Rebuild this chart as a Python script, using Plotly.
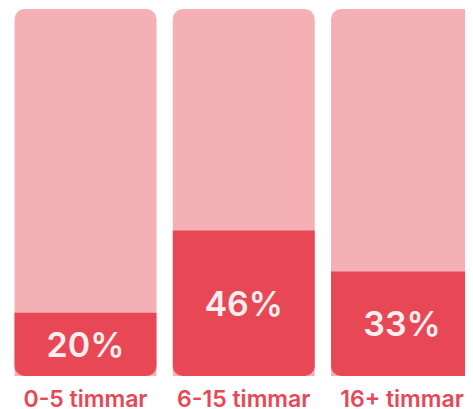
import plotly.graph_objects as go

categories = ["0-5 timmar", "6-15 timmar", "16+ timmar"]
values = [20, 46, 33]
scale_max = 116  # value that fills a whole bar

DARK = "#E84756"
LIGHT = "#F4B0B4"
TEXT_IN = "#FDEEEF"
FONT = "Inter, Roboto, sans-serif"

fig = go.Figure()

# full-height background bars (rounded at top)
fig.add_trace(go.Bar(
    x=categories,
    y=[scale_max] * len(categories),
    marker=dict(color=LIGHT, line=dict(width=0), cornerradius=10),
    width=0.897,
    hoverinfo="skip",
    showlegend=False,
))

# each value bar is drawn as a negative bar on its own overlay axis,
# so that its rounded end sits at the bottom of the column
layout_axes = {}
for i, (cat, v) in enumerate(zip(categories, values)):
    ax = f"y{i + 2}"
    fig.add_trace(go.Bar(
        x=[cat],
        y=[-v],
        yaxis=ax,
        text=[f"{v}%"],
        textposition="inside",
        insidetextanchor="middle",
        textangle=0,
        textfont=dict(family=FONT, size=34, color=TEXT_IN, weight=600),
        marker=dict(color=DARK, line=dict(width=0), cornerradius=10),
        width=0.897,
        showlegend=False,
    ))
    layout_axes[f"yaxis{i + 2}"] = dict(
        range=[-v, scale_max - v], visible=False, overlaying="y"
    )

fig.update_layout(
    width=465,
    height=401,
    margin=dict(l=0, r=0, t=1, b=33),
    paper_bgcolor="white",
    plot_bgcolor="white",
    barmode="overlay",
    xaxis=dict(
        range=[-0.4897, 2.4487],
        showgrid=False,
        zeroline=False,
        showline=False,
        ticks="",
        automargin=False,
        tickfont=dict(family=FONT, size=23, color=DARK, weight=600),
        ticklabelstandoff=7,
    ),
    yaxis=dict(range=[0, scale_max], visible=False),
    uniformtext=dict(minsize=10, mode="show"),
    **layout_axes,
)

fig.write_html("out.html")
